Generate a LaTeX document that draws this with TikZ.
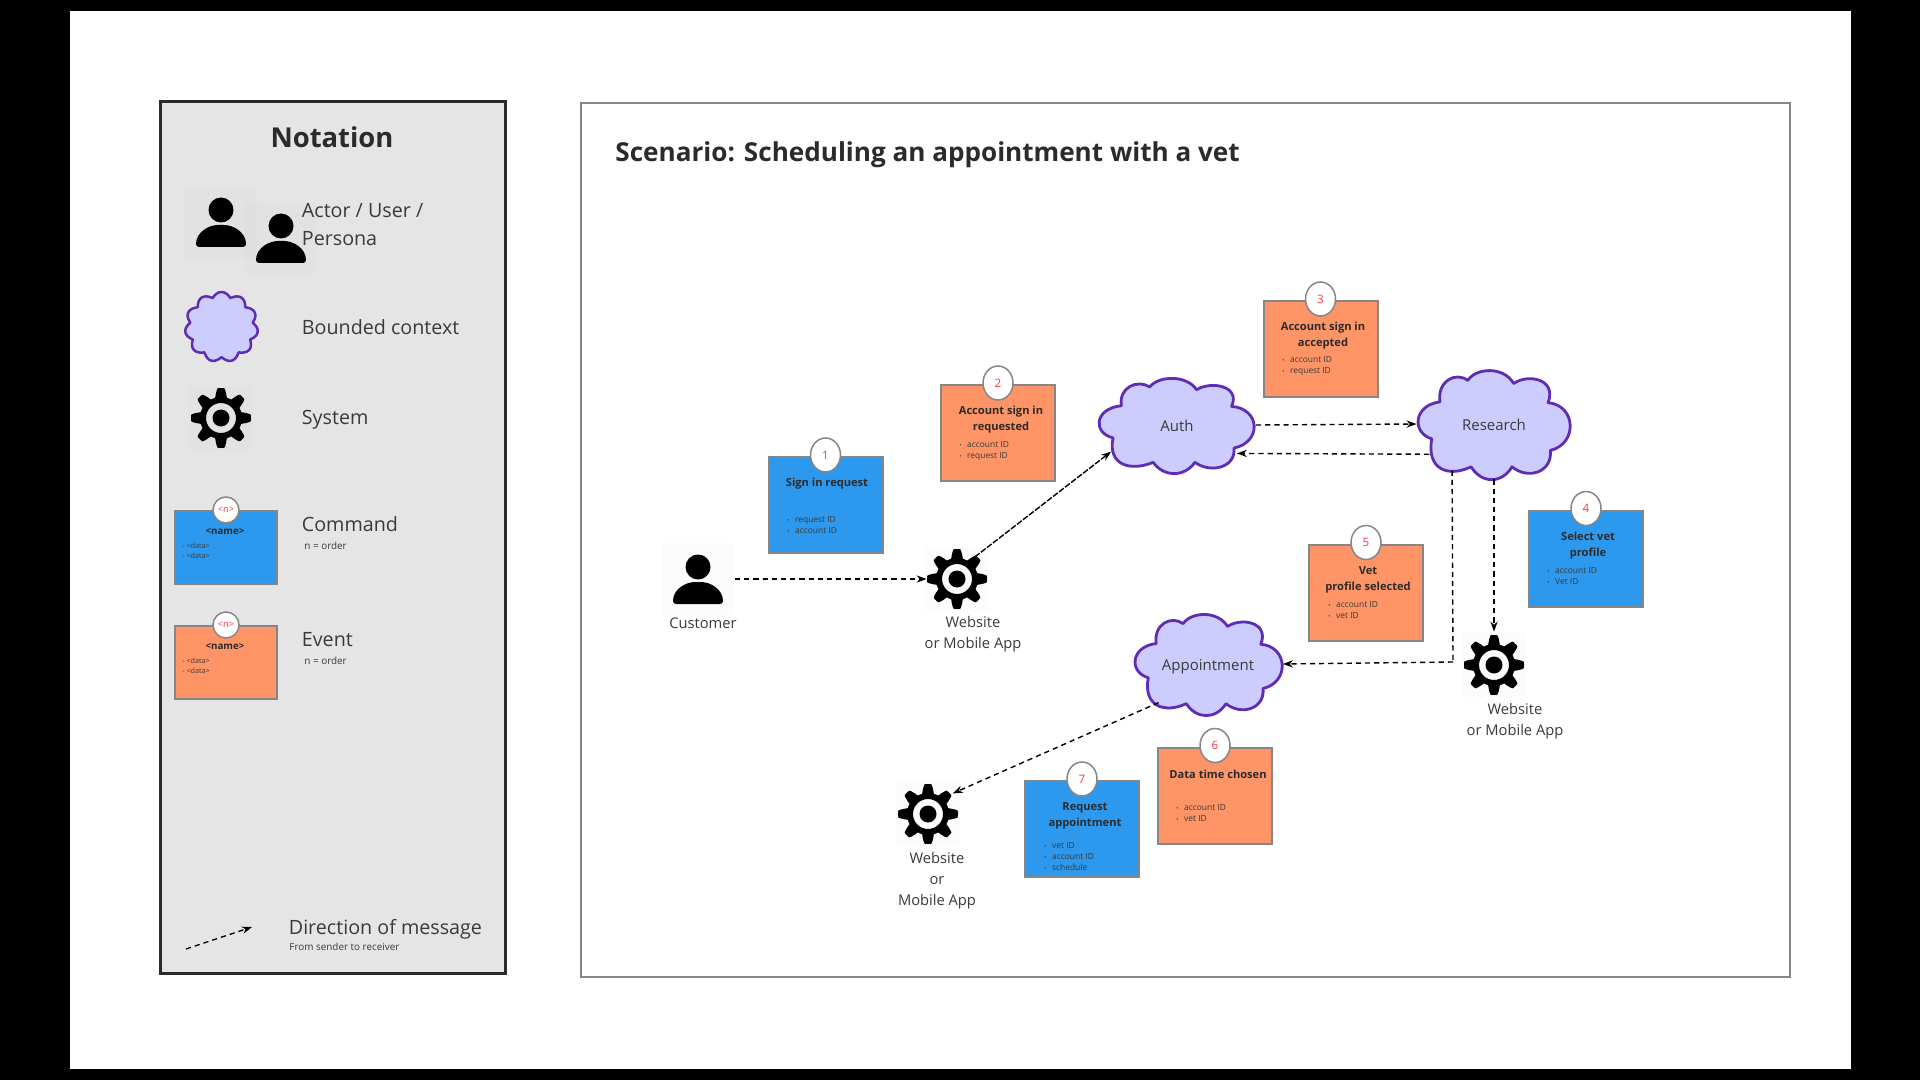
\documentclass[tikz,border=0pt]{standalone}
\usepackage{fontspec}
\setmainfont{Open Sans}
\usetikzlibrary{arrows.meta,shapes.geometric}
\definecolor{cmdblue}{HTML}{2C99EE}
\definecolor{evtorange}{HTML}{FF9466}
\definecolor{cloudfill}{HTML}{CCCCFF}
\definecolor{cloudline}{HTML}{5F2DB3}
\definecolor{cardline}{HTML}{868686}
\definecolor{inkdark}{HTML}{2B2B2B}
\definecolor{inksoft}{HTML}{3A3A3A}
\definecolor{badgered}{HTML}{FF3040}
\definecolor{panelgrey}{HTML}{E5E5E5}
\newcommand\fz[2]{\fontsize{#1}{#2}\selectfont}
\newcommand\mycloud[4]{% x1 y1 w h
  \begin{scope}[shift={(#1,#2)},xscale=#3,yscale=#4]
  \draw[cloudshape] (.149,.299) .. controls (.13,.11) and (.25,.02) .. (.33,.104)
    .. controls (.38,-.01) and (.56,-.03) .. (.628,.132)
    .. controls (.72,.04) and (.91,.09) .. (.851,.306)
    .. controls (1.035,.33) and (1.045,.68) .. (.866,.74)
    .. controls (.88,.94) and (.72,1.01) .. (.617,.889)
    .. controls (.55,1.045) and (.42,1.045) .. (.351,.889)
    .. controls (.2,.99) and (.06,.91) .. (.096,.635)
    .. controls (-.035,.58) and (-.025,.33) .. (.149,.299) -- cycle;
  \end{scope}}
\newcommand\mygear[3]{% name x y
  \begin{scope}[shift={(#2,#3)}]
  \fill[iconshade] (-32,-32) rectangle (32,32);
  \fill[black,even odd rule] plot[domain=0:360,samples=241,variable=\t] (\t:{25.5+4.5*max(-1,min(1,1.6*cos(8*\t)))}) -- cycle (0,0) circle (15);
  \fill[black] (0,0) circle (8.5);
  \end{scope}
  \node[gearnode] (#1) at (#2,#3) {};}
\newcommand\myperson[3]{% name x y(of square centre)
  \begin{scope}[shift={(#2,#3)}]
  \fill[iconshade] (-36,-36) rectangle (36,36);
  \fill[black] (0,-12) circle (12.5);
  \fill[black,rounded corners=1.5pt] (-25,25) .. controls (-25,10) and (-12,3) .. (0,3) .. controls (12,3) and (25,10) .. (25,25) -- cycle;
  \end{scope}
  \node[personnode] (#1) at (#2,#3) {};}
\newcommand\mycard[5]{% id cx cy fill badge-text
  \node[cardbox,fill=#4] (card#1) at (#2,#3) {};
  \node[badge] (badge#1) at ([yshift=0.5pt]card#1.north) {#5};}
\newcommand\mytitle[4]{% id cx cy text
  \node[cardtitle] (title#1) at (#2,#3) {#4};}
\newcommand\mydata[4]{% id x cy lines
  \node[carddata] (data#1) at (#2,#3) {#4};}
\newcommand\itm[1]{\makebox[3.9pt][l]{\fz{3}{3}•}#1}
\tikzset{
  x=0.5pt,y=-0.5pt,
  cloudshape/.style={fill=cloudfill,draw=cloudline,line width=1.4pt,line join=round},
  iconshade/.style={black,opacity=0.01},
  gearnode/.style={circle,minimum size=28pt,inner sep=0pt,draw=none},
  personnode/.style={rectangle,minimum size=36.5pt,inner sep=0pt,draw=none},
  cardbox/.style={rectangle,minimum width=57pt,minimum height=48pt,inner sep=0pt,draw=cardline,line width=1pt},
  badge/.style={ellipse,minimum width=15pt,minimum height=17pt,inner sep=0pt,fill=white,draw=cardline,line width=.75pt,text=badgered,font=\fz{5.8}{7}},
  cardtitle/.style={inner sep=0pt,align=center,text=inkdark,font=\fz{5.55}{8}\bfseries},
  carddata/.style={inner sep=0pt,anchor=west,align=left,text=inksoft,font=\fz{4.2}{5.5}},
  bcnode/.style={ellipse,inner sep=0pt,text=inksoft,text height=7pt,text depth=.7pt,font=\fz{7.5}{9}},
  iconlabel/.style={inner sep=0pt,align=center,text=inksoft,font=\fz{7.35}{10.5}},
  legendtext/.style={inner sep=0pt,anchor=west,align=left,text=inksoft,font=\fz{9.85}{14}},
  legendsmall/.style={inner sep=0pt,anchor=west,text=inksoft,font=\fz{4.95}{6}},
  msg/.style={draw=black,line width=.7pt,dash pattern=on 2.6pt off 2pt,-{Stealth[length=5pt,width=3.6pt]}},
  msgdense/.style={msg,dash pattern=on 3pt off .8pt},
  msgplain/.style={draw=black,line width=.7pt,dash pattern=on 2.6pt off 2pt},
}
\begin{document}
\begin{tikzpicture}
\useasboundingbox (0,0) rectangle (1920,1080);
\fill[black] (0,0) rectangle (1920,1080);
\fill[white] (70,11) rectangle (1851,1069);
% Notation panel
\node[rectangle,draw=inkdark,fill=panelgrey,line width=1.5pt,minimum width=172.5pt,minimum height=435.5pt,inner sep=0pt] (panel) at (332.5,537.5) {};
\node[inner sep=0pt,text=inkdark,font=\fz{13.7}{15}\bfseries] (ntitle) at (332,137) {Notation};
\myperson{p1}{221}{222}
\myperson{p2}{281}{238}
\node[legendtext] (ltactor) at (301.5,224.5) {Actor / User /\\Persona};
\draw[cloudshape,line width=1.25pt] plot[domain=-90:270,samples=241,variable=\t] ({221.5+36.5*(.86+.14*abs(cos(5.5*(\t+90))))*cos(\t)},{327+35*(.86+.14*abs(cos(5.5*(\t+90))))*sin(\t)}) -- cycle;
\node[ellipse,minimum width=36pt,minimum height=35pt,inner sep=0pt] (lcloud) at (221.5,327) {};
\node[legendtext] (ltbc) at (301.5,327) {Bounded context};
\mygear{lgear}{221}{418}
\node[legendtext] (ltsys) at (301.5,420) {System};
% legend cards
\node[cardbox,fill=cmdblue,minimum width=51pt,minimum height=36.5pt] (lcmd) at (226,547) {};
\node[badge,minimum width=13pt,minimum height=13pt,font=\fz{4.6}{5}] (lcmdb) at (226,510) {<n>};
\node[cardtitle,font=\fz{4.9}{5}\bfseries] (lcmdn) at (225,531) {<name>};
\node[carddata,font=\fz{3.6}{5}] (lcmdd) at (182,551) {- <data>\\- <data>};
\node[legendtext] (ltcmd) at (301.5,524) {Command};
\node[legendsmall] (ltcmdn) at (304,546) {n = order};
\node[cardbox,fill=evtorange,minimum width=51pt,minimum height=36.5pt] (levt) at (226,662) {};
\node[badge,minimum width=13pt,minimum height=13pt,font=\fz{4.6}{5}] (levtb) at (226,625) {<n>};
\node[cardtitle,font=\fz{4.9}{5}\bfseries] (levtn) at (225,646) {<name>};
\node[carddata,font=\fz{3.6}{5}] (levtd) at (182,666) {- <data>\\- <data>};
\node[legendtext] (ltevt) at (301.5,640) {Event};
\node[legendsmall] (ltevtn) at (304,661) {n = order};
\coordinate (lfrom) at (186,949);
\coordinate (lto) at (252,927);
\draw[msg] (lfrom) -- (lto);
\node[legendtext] (ltdir) at (288.5,929) {Direction of message};
\node[legendsmall] (ltdirs) at (289,947) {From sender to receiver};
% Scenario frame
\node[rectangle,draw=cardline,line width=1pt,minimum width=604.5pt,minimum height=437pt,inner sep=0pt] (frame) at (1185.5,540) {};
\node[inner sep=0pt,anchor=west,text=inkdark,font=\fz{13.05}{15}\bfseries] (stitle) at (615,155) {Scenario: Scheduling an appointment with a vet};
% clouds
\mycloud{1098}{377}{157}{96}
\node[bcnode,minimum width=78.5pt,minimum height=48pt] (auth) at (1177,425) {Auth};
\mycloud{1417}{369}{154}{110}
\node[bcnode,minimum width=77pt,minimum height=55pt] (research) at (1494,424) {Research};
\mycloud{1134}{613}{149}{102}
\node[bcnode,minimum width=74.5pt,minimum height=51pt] (appt) at (1208,664) {Appointment};
% actors and systems
\myperson{customer}{698}{579}
\node[iconlabel] (customerl) at (703,623) {Customer};
\mygear{gear1}{957}{579}
\node[iconlabel] (gear1l) at (973,634.5) {Website\\or Mobile App};
\mygear{gear2}{1494}{665}
\node[iconlabel] (gear2l) at (1515,721) {Website\\or Mobile App};
\mygear{gear3}{928}{814}
\node[iconlabel] (gear3l) at (937,881) {Website\\or\\Mobile App};
% cards
\mycard{1}{825.5}{505}{cmdblue}{1}
\mytitle{1}{827}{484}{Sign in request}
\mydata{1}{787}{525}{\itm{request ID}\\\itm{account ID}}
\mycard{2}{998}{433}{evtorange}{2}
\mytitle{2}{1001}{420}{Account sign in\\requested}
\mydata{2}{959}{451}{\itm{account ID}\\\itm{request ID}}
\mycard{3}{1320.5}{349}{evtorange}{3}
\mytitle{3}{1323}{336}{Account sign in\\accepted}
\mydata{3}{1282}{366}{\itm{account ID}\\\itm{request ID}}
\mycard{4}{1586}{558.5}{cmdblue}{4}
\mytitle{4}{1588}{546}{Select vet\\profile}
\mydata{4}{1547}{576}{\itm{account ID}\\\itm{Vet ID}}
\mycard{5}{1366}{592.5}{evtorange}{5}
\mytitle{5}{1368}{580}{Vet\\profile selected}
\mydata{5}{1328}{610}{\itm{account ID}\\\itm{vet ID}}
\mycard{6}{1215}{795.5}{evtorange}{6}
\mytitle{6}{1218}{774.5}{Data time chosen}
\mydata{6}{1176}{813}{\itm{account ID}\\\itm{vet ID}}
\mycard{7}{1082}{829}{cmdblue}{7}
\mytitle{7}{1085}{816}{Request\\appointment}
\mydata{7}{1044}{856.5}{\itm{vet ID}\\\itm{account ID}\\\itm{schedule}}
% connectors
\coordinate (corner) at (1453,662);
\draw[msg,shorten >=1pt] (customer.east) -- (gear1.west);
\draw[msgdense] (gear1.51) -- (auth.202);
\draw[msg] (auth.east) -- (research.west);
\draw[msg,shorten >=-2pt] (research.205) -- (auth.-24);
\draw[msg,shorten >=2.5pt] (research.south) -- (gear2.north);
\draw[msgplain] (research.228) -- (corner);
\draw[msg] (corner) -- (appt.east);
\draw[msg,shorten >=2pt] (appt.218) -- (gear3.42);
\end{tikzpicture}
\end{document}
